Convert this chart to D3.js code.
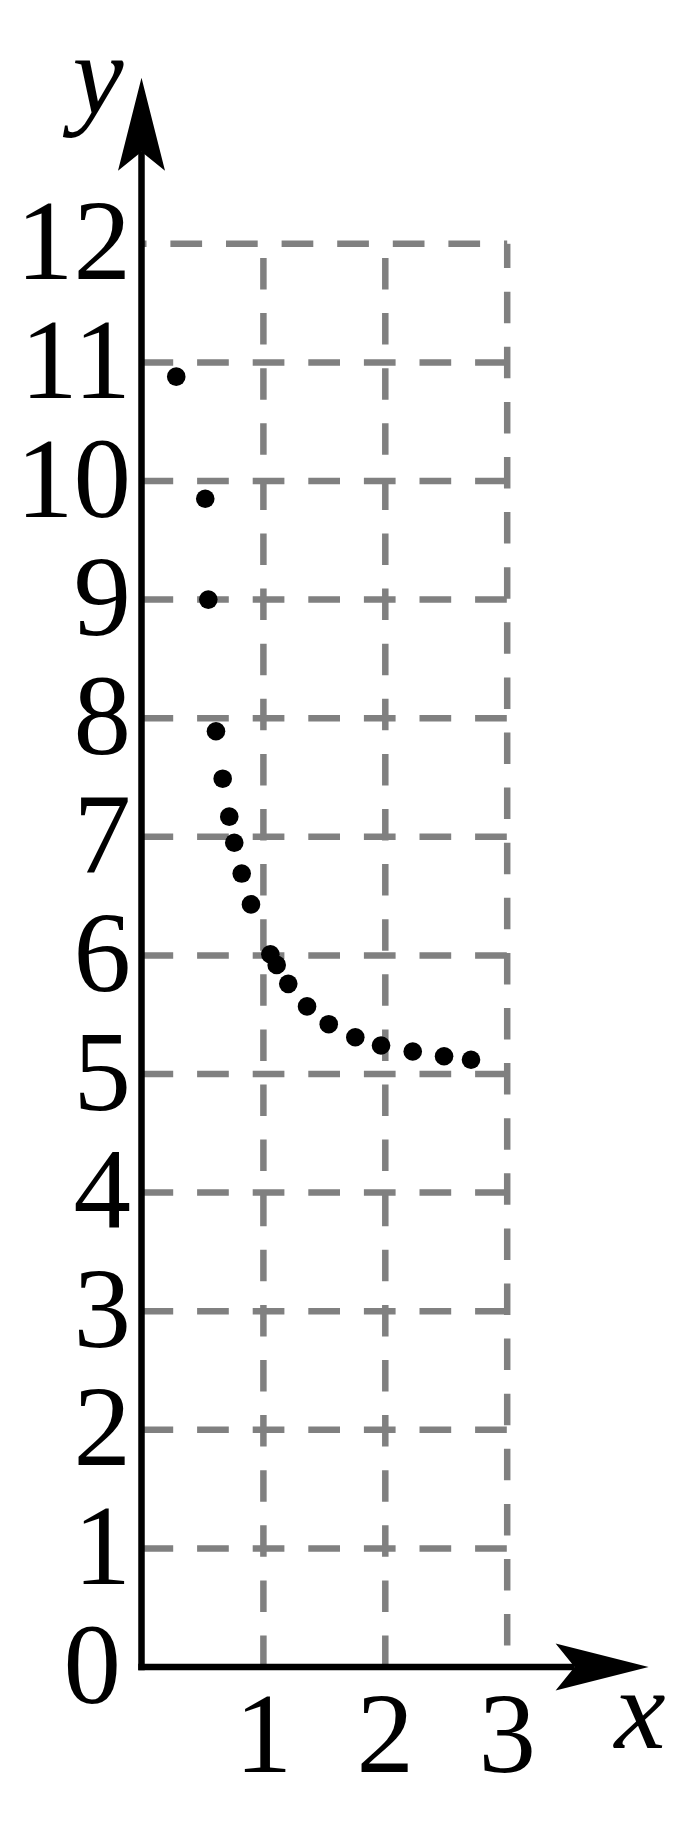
<!DOCTYPE html>
<html>
<head>
<meta charset="utf-8">
<script src="https://cdn.jsdelivr.net/npm/d3@7/dist/d3.min.js"></script>
<style>
  html, body { margin: 0; padding: 0; background: #fff; }
  svg { display: block; }
  text { font-family: "Liberation Serif", "Times New Roman", serif; fill: #000; }
</style>
</head>
<body>
<script>
// ---- data ----
const xValues = [0.285, 0.523, 0.548, 0.611, 0.666, 0.720, 0.761, 0.822, 0.898, 1.057, 1.109, 1.204, 1.358, 1.536, 1.754, 1.965, 2.225, 2.482, 2.703];
const yValues = [10.88, 9.85, 9.00, 7.89, 7.49, 7.17, 6.95, 6.69, 6.43, 6.01, 5.92, 5.76, 5.57, 5.42, 5.31, 5.24, 5.19, 5.15, 5.12];
const xTicks = [1, 2, 3];
const yTicks = [1, 2, 3, 4, 5, 6, 7, 8, 9, 10, 11, 12];
const xDomain = [0, 3];
const yDomain = [0, 12];
const xAxisEnd = 4.16;   // data position of x arrow tip
const yAxisEnd = 13.40;  // data position of y arrow tip

// ---- layout ----
const W = 687, H = 1839;
const svg = d3.select("body").append("svg").attr("width", W).attr("height", H);

const x = d3.scaleLinear().domain(xDomain).range([141.5, 507.2]);
const y = d3.scaleLinear().domain(yDomain).range([1667, 243.8]);

const gridColor = "#808080";
const gridW = 6.5;
const grid = svg.append("g");

// horizontal grid lines
grid.selectAll("line.h").data(yTicks).join("line")
  .attr("x1", x(0)).attr("x2", x(3))
  .attr("y1", d => y(d)).attr("y2", d => y(d))
  .attr("stroke", gridColor).attr("stroke-width", gridW)
  .attr("stroke-dasharray", "31.7,23.9")
  .attr("stroke-dashoffset", d => d === 12 ? 26.7 : 0);

// vertical grid lines at 1,2 drawn bottom-up; at 3 top-down
grid.selectAll("line.v").data(xTicks).join("line")
  .attr("x1", d => x(d)).attr("x2", d => x(d))
  .attr("y1", d => d === 3 ? y(12) : y(0))
  .attr("y2", d => d === 3 ? y(0) : y(12))
  .attr("stroke", gridColor).attr("stroke-width", gridW)
  .attr("stroke-dasharray", "31.5,23.6")
  .attr("stroke-dashoffset", d => d === 3 ? 7.2 : 0);

// ---- axes ----
const axW = 6.5;
const arrowLen = 93, arrowNotch = 19, arrowHalf = 23.5;
const ax = svg.append("g");
const xTip = x(xAxisEnd), yTip = y(yAxisEnd);
const ox = x(0), oy = y(0);

ax.append("line").attr("x1", ox).attr("x2", ox)
  .attr("y1", oy + axW / 2).attr("y2", yTip + arrowLen - arrowNotch)
  .attr("stroke", "#000").attr("stroke-width", axW);
ax.append("line").attr("y1", oy).attr("y2", oy)
  .attr("x1", ox - axW / 2).attr("x2", xTip - arrowLen + arrowNotch)
  .attr("stroke", "#000").attr("stroke-width", axW);

ax.append("path").attr("fill", "#000").attr("d",
  `M${ox},${yTip} L${ox + arrowHalf},${yTip + arrowLen} L${ox},${yTip + arrowLen - arrowNotch} L${ox - arrowHalf},${yTip + arrowLen} Z`);
ax.append("path").attr("fill", "#000").attr("d",
  `M${xTip},${oy} L${xTip - arrowLen},${oy - arrowHalf} L${xTip - arrowLen + arrowNotch},${oy} L${xTip - arrowLen},${oy + arrowHalf} Z`);

// ---- tick labels ----
const fs = 115;
svg.append("g").selectAll("text").data(yTicks).join("text")
  .attr("x", 131).attr("y", d => y(d) + 35.5)
  .attr("text-anchor", "end").attr("font-size", fs)
  .text(d => d);
svg.append("text").attr("x", 121).attr("y", y(0) + 35.5)
  .attr("text-anchor", "end").attr("font-size", fs).text("0");
svg.append("g").selectAll("text").data(xTicks).join("text")
  .attr("x", d => x(d)).attr("y", 1771.7)
  .attr("text-anchor", "middle").attr("font-size", fs)
  .text(d => d);

// axis titles
svg.append("text").attr("x", 640).attr("y", 1748)
  .attr("text-anchor", "middle").attr("font-size", fs).attr("font-style", "italic").text("x");
svg.append("text").attr("x", 98).attr("y", 114)
  .attr("text-anchor", "middle").attr("font-size", fs).attr("font-style", "italic").text("y");

// ---- points ----
const pts = xValues.map((v, i) => ({ x: v, y: yValues[i] }));
svg.append("g").selectAll("circle").data(pts).join("circle")
  .attr("cx", d => x(d.x)).attr("cy", d => y(d.y)).attr("r", 9.3)
  .attr("fill", "#000");
</script>
</body>
</html>
